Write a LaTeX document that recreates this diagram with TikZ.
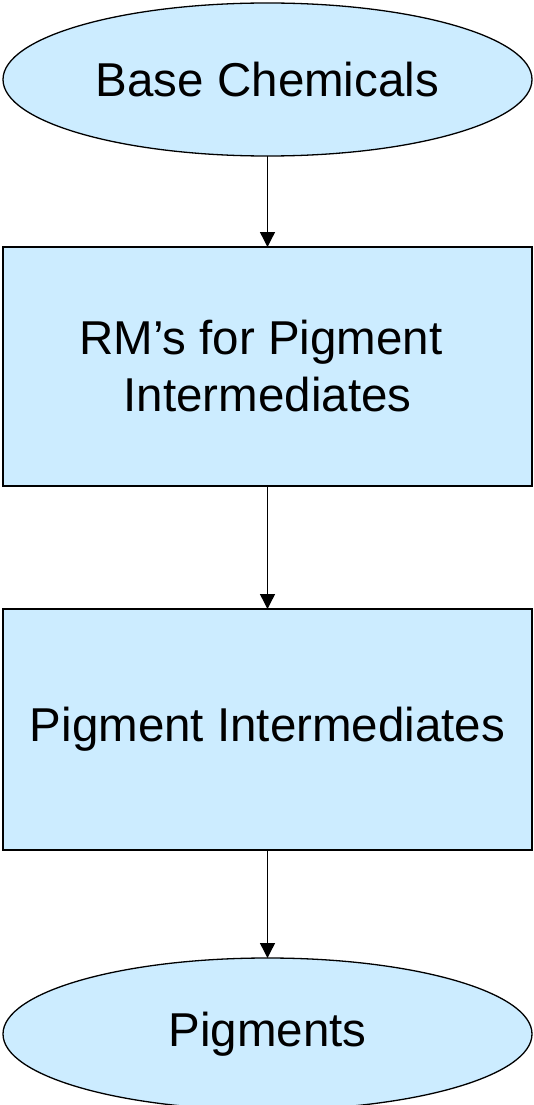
\documentclass[tikz,border=0pt]{standalone}
\usepackage{fontspec}
\setmainfont{Liberation Sans}
\usetikzlibrary{shapes.geometric,arrows.meta}
\definecolor{boxfill}{RGB}{204,236,255}
\begin{document}
\begin{tikzpicture}[x=1pt,y=-1pt,
  shapebase/.style={draw=black,line width=1.3pt,fill=boxfill,inner sep=0pt,outer sep=0pt,
    font=\fontsize{47.5}{57}\selectfont,align=center},
  ovalnode/.style={shapebase,ellipse,minimum width=529pt},
  rectnode/.style={shapebase,rectangle,minimum width=529pt,minimum height=239pt},
  flow/.style={line width=1.4pt,-{Triangle[length=15pt,width=15pt]}}]
\useasboundingbox (0,0) rectangle (533,1105);
\node[ovalnode,minimum height=153pt] (base) at (267.5,79.5) {Base Chemicals};
\node[rectnode] (rm) at (267.5,366.5) {RM’s for Pigment\ \mbox{}\\ Intermediates};
\node[rectnode,minimum height=241pt] (pi) at (267.5,729.5) {Pigment Intermediates};
\node[ovalnode,minimum height=152pt] (pig) at (267.5,1034) {Pigments};
\draw[flow] (base.south) -- (rm.north);
\draw[flow] (rm.south) -- (pi.north);
\draw[flow] (pi.south) -- (pig.north);
\end{tikzpicture}
\end{document}
